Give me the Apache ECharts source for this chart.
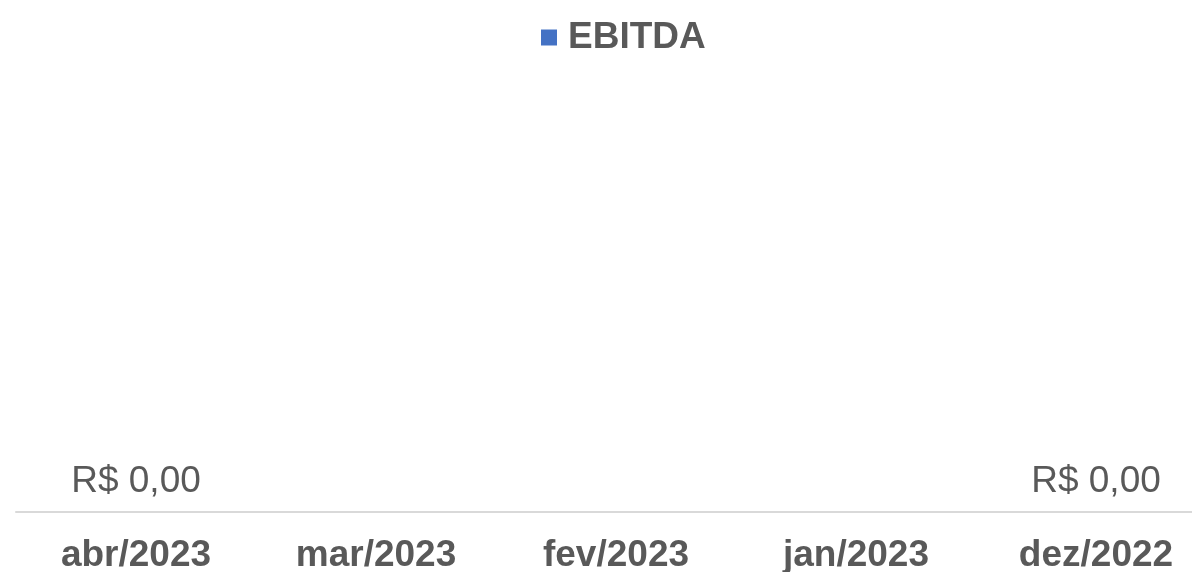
<!DOCTYPE html>
<html>
<head>
<meta charset="utf-8">
<script src="https://cdn.jsdelivr.net/npm/echarts@6/dist/echarts.min.js"></script>
<style>
html,body{margin:0;padding:0;background:#fff;}
#main{width:1192px;height:572px;}
</style>
</head>
<body>
<div id="main"></div>
<script>
// categorias e valores
var meses = ["abr/2023", "mar/2023", "fev/2023", "jan/2023", "dez/2022"];
var ebitda = [0, null, null, null, 0];
var serieNome = "EBITDA";

var chart = echarts.init(document.getElementById('main'));

var option = {
    animation: false,
    legend: {
        data: [serieNome],
        left: 536,
        top: 14,
        itemWidth: 16,
        itemHeight: 16,
        icon: 'rect',
        textStyle: {
            fontFamily: 'Liberation Sans, Arial',
            fontSize: 37,
            fontWeight: 'bold',
            color: '#595959',
            padding: [0, 0, 0, 6]
        }
    },
    grid: {
        left: 16,
        top: 80,
        width: 1200,
        bottom: 60,
        outerBoundsMode: 'none'
    },
    xAxis: {
        type: 'category',
        data: meses,
        axisLine: { lineStyle: { color: '#d9d9d9', width: 2 } },
        axisTick: { show: false },
        axisLabel: {
            interval: 0,
            margin: 25,
            fontFamily: 'Liberation Sans, Arial',
            fontSize: 37,
            fontWeight: 'bold',
            color: '#595959'
        }
    },
    yAxis: {
        type: 'value',
        show: false,
        min: 0,
        max: 1
    },
    series: [{
        name: serieNome,
        type: 'bar',
        data: ebitda,
        itemStyle: { color: '#4472c4' },
        label: {
            show: true,
            position: 'top',
            distance: 12,
            fontFamily: 'Liberation Sans, Arial',
            fontSize: 37,
            color: '#595959',
            formatter: function (p) {
                return 'R$ ' + p.value.toFixed(2).replace('.', ',');
            }
        }
    }]
};

chart.setOption(option);
</script>
</body>
</html>
